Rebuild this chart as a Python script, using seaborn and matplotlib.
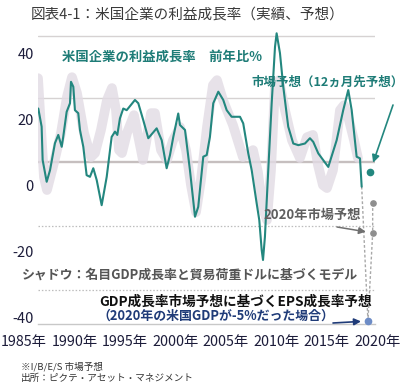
import matplotlib
matplotlib.use("Agg")
import matplotlib.pyplot as plt
import matplotlib.transforms as mtransforms
import numpy as np
import pandas as pd
import seaborn as sns

# ---------------- data ----------------
actual_year = [1986.42, 1986.75, 1986.85, 1987.25, 1987.58, 1988.07, 1988.40, 1988.74, 1988.89, 1989.23,
               1989.56, 1989.66, 1989.89, 1990.05, 1990.38, 1990.55, 1990.88, 1991.21, 1991.54, 1991.87,
               1992.21, 1992.70, 1993.20, 1993.69, 1994.02, 1994.25, 1994.51, 1994.84, 1995.18, 1996.00,
               1996.33, 1996.82, 1997.32, 1998.15, 1998.65, 1999.14, 1999.47, 1999.80, 2000.29, 2000.46,
               2000.96, 2001.45, 2001.95, 2002.27, 2002.77, 2003.11, 2003.43, 2003.76, 2004.26, 2004.75,
               2005.09, 2005.58, 2006.41, 2006.73, 2007.23, 2007.57, 2008.06, 2008.32, 2008.56, 2008.69,
               2008.88, 2009.21, 2009.55, 2009.88, 2010.04, 2010.37, 2010.70, 2011.19, 2011.69, 2012.19,
               2012.85, 2013.34, 2013.67, 2014.17, 2015.16, 2015.99, 2016.64, 2017.14, 2017.48, 2017.97,
               2018.30, 2018.47]
actual_growth = [23.2, 17.7, 7.6, 1.0, 4.5, 12.7, 15.2, 11.6, 14.6, 22.2,
                 24.8, 31.3, 29.8, 22.7, 21.8, 16.7, 11.6, 3.0, 2.5, 5.1,
                 1.5, -6.1, 2.5, 14.6, 16.2, 15.2, 20.2, 23.2, 22.7, 25.8,
                 24.8, 19.7, 14.2, 17.2, 13.6, 5.1, 9.1, 14.6, 21.7, 18.2,
                 16.7, 4.5, -9.6, -6.6, 8.6, 9.1, 14.6, 24.8, 28.3, 25.8,
                 22.7, 20.7, 20.7, 18.7, 9.6, 4.5, -5.5, -10.6, -19.7, -22.7,
                 -15.7, 4.5, 24.8, 41.9, 46.0, 40.0, 29.8, 17.7, 12.6, 12.1,
                 12.6, 14.2, 13.1, 9.6, 5.5, 13.6, 22.7, 28.8, 22.7, 8.6,
                 8.1, -0.5]

model_year = [1986.39, 1986.68, 1986.98, 1987.28, 1987.97, 1988.67, 1989.26, 1989.76, 1990.25, 1990.95,
              1991.64, 1992.04, 1992.63, 1993.23, 1993.72, 1994.12, 1994.42, 1994.71, 1995.21, 1995.90,
              1996.60, 1996.79, 1997.09, 1997.59, 1997.98, 1998.58, 1999.17, 1999.77, 2000.46, 2001.06,
              2001.55, 2002.05, 2002.54, 2003.14, 2003.73, 2004.13, 2004.72, 2005.71, 2006.70, 2007.70,
              2008.19, 2008.59, 2009.08, 2009.48, 2009.88, 2010.27, 2010.87, 2011.56, 2012.35, 2013.05,
              2013.64, 2014.14, 2014.63, 2015.03, 2015.62, 2016.32, 2016.71, 2017.21, 2017.71, 2018.10]
model_growth = [32.4, 17.6, 2.4, -1.5, 6.7, 15.8, 26.7, 32.7, 27.9, 15.8,
                8.5, 9.7, 16.7, 25.8, 29.4, 22.7, 10.6, 9.7, 15.8, 21.2,
                10.6, 7.6, 12.7, 21.8, 21.8, 10.6, 7.6, 13.6, 17.6, 10.6,
                0.0, -8.2, 1.5, 17.6, 30.3, 31.8, 25.8, 18.2, 8.5, 10.6,
                3.9, -6.1, -10.6, 4.5, 30.3, 31.8, 22.7, 13.6, 8.2, 14.5,
                15.2, 6.1, 0.0, -0.9, 4.5, 22.7, 24.2, 19.7, 13.6, 8.2]

forecast_12m_year = 2019.29
forecast_12m = 4.0
market_2020_year = 2019.56
market_2020 = [-5.5, -14.5]
gdp_case_year = 2019.09
gdp_case = -41.2

y_ticks = [40, 20, 0, -20, -40]
x_ticks = [1985, 1990, 1995, 2000, 2005, 2010, 2015, 2020]
x_labels = ["1985年", "1990年", "1995年", "2000年", "2005年", "2010年", "2015年", "2020年"]
grid_levels = [45.2, 26.4, 7.0, -12.4, -31.8]

# ---------------- style ----------------
sns.set_style("white")
plt.rcParams['font.family'] = ['Noto Sans CJK JP', 'DejaVu Sans']

W, H = 414, 388
fig = plt.figure(figsize=(W / 100, H / 100), dpi=100)
ax = fig.add_axes([38 / W, (H - 324) / H, 337 / W, 294 / H])
ax.set_xlim(1986.39, 2019.79)
ax.set_ylim(-42.1, 47.0)

teal = "#23877f"
teal_txt = "#1e7c77"
shadow_c = "#e2dbe4"
navy = "#1f3b78"
grey_txt = "#5f5f5f"

# grid lines
for i, g in enumerate(grid_levels):
    if i < 2:
        ax.axhline(g, color="#d6d2d2", lw=1.0, zorder=1)
    elif i == 2:
        ax.axhline(g, color="#c6bfbf", lw=1.7, zorder=1)
    else:
        ax.axhline(g, color="#bdbdbd", lw=0.9, ls=(0, (1.2, 1.5)), zorder=1)

# shadow (model)
df_model = pd.DataFrame({"year": model_year, "growth": model_growth})
sns.lineplot(data=df_model, x="year", y="growth", ax=ax, color=shadow_c, lw=7.0,
             alpha=0.8, zorder=2, solid_capstyle="round", solid_joinstyle="round")

# actual
df_act = pd.DataFrame({"year": actual_year, "growth": actual_growth})
sns.lineplot(data=df_act, x="year", y="growth", ax=ax, color=teal, lw=1.5, zorder=4)

# dashed connectors
ax.plot([actual_year[-1], gdp_case_year], [actual_growth[-1], gdp_case],
        color="#a8a8a8", lw=1.0, ls=(0, (2, 1.5)), zorder=3, clip_on=False)
ax.plot([market_2020_year, market_2020_year, gdp_case_year],
        [market_2020[0], market_2020[1], gdp_case],
        color="#a8a8a8", lw=1.0, ls=(0, (2, 1.5)), zorder=3, clip_on=False)

# points
ax.plot([forecast_12m_year], [forecast_12m], 'o', color=teal, ms=4.5, zorder=5, clip_on=False)
ax.plot([market_2020_year] * 2, market_2020, 'o', color="#8e8e8e", ms=3.8, zorder=5, clip_on=False)
ax.plot([gdp_case_year], [gdp_case], 'o', color="#6d8cc6", ms=4.5, zorder=5, clip_on=False)

# axes styling
for s in ["top", "right", "left"]:
    ax.spines[s].set_visible(False)
ax.spines["bottom"].set_color("#c8c8c8")
ax.spines["bottom"].set_linewidth(1.0)
ax.set_xticks([])
ax.set_yticks(y_ticks)
ax.set_yticklabels([str(v) for v in y_ticks])
ax.tick_params(axis="y", length=0, pad=3, labelsize=10.5, labelcolor="#1c1c3a")
ax.set_xlabel("")
ax.set_ylabel("")
ax.grid(False)

# x labels
trans = mtransforms.blended_transform_factory(ax.transData, fig.transFigure)
for xv, lab in zip(x_ticks, x_labels):
    ax.text(xv, 1 - 342 / H, lab, transform=trans, ha="center", va="center",
            fontsize=10.3, color="#1c1c3a", clip_on=False)

def ft(x, y, s, **kw):
    fig.text(x / W, 1 - y / H, s, ha="left", va="center", **kw)

ft(31, 15, "図表4-1：米国企業の利益成長率（実績、予想）", fontsize=10.5, color="#3a3a3a")
ft(62, 57, "米国企業の利益成長率　前年比%", fontsize=9.6, color=teal_txt, fontweight="bold")
ft(251, 82, "市場予想（12ヵ月先予想）", fontsize=9.0, color=teal_txt, fontweight="bold")
ft(263, 215, "2020年市場予想", fontsize=9.5, color=grey_txt, fontweight="bold")
ft(22, 275, "シャドウ：名目GDP成長率と貿易荷重ドルに基づくモデル", fontsize=9.3, color="#555555", fontweight="bold")
ft(99, 302, "GDP成長率市場予想に基づくEPS成長率予想", fontsize=9.8, color="#111111", fontweight="bold")
ft(97, 316, "（2020年の米国GDPが-5%だった場合）", fontsize=9.3, color=navy, fontweight="bold")
ft(21, 367, "※I/B/E/S 市場予想", fontsize=6.9, color="#333333")
ft(21, 378, "出所：ピクテ・アセット・マネジメント", fontsize=6.9, color="#333333")

# arrows
ax.annotate("", xy=(forecast_12m_year, forecast_12m), xycoords="data",
            xytext=(393, H - 105), textcoords="figure pixels",
            arrowprops=dict(arrowstyle="-|>", color=teal, lw=1.2, shrinkA=0, shrinkB=7,
                            mutation_scale=11), annotation_clip=False)
ax.annotate("", xy=(market_2020_year, market_2020[1]), xycoords="data",
            xytext=(337, H - 227), textcoords="figure pixels",
            arrowprops=dict(arrowstyle="-|>", color="#707070", lw=1.1, shrinkA=0, shrinkB=5,
                            mutation_scale=10), annotation_clip=False)
ax.annotate("", xy=(gdp_case_year, gdp_case), xycoords="data",
            xytext=(333, H - 323), textcoords="figure pixels",
            arrowprops=dict(arrowstyle="-|>", color=navy, lw=1.2, shrinkA=0, shrinkB=5,
                            mutation_scale=10), annotation_clip=False)

fig.savefig("out.png", dpi=100)
